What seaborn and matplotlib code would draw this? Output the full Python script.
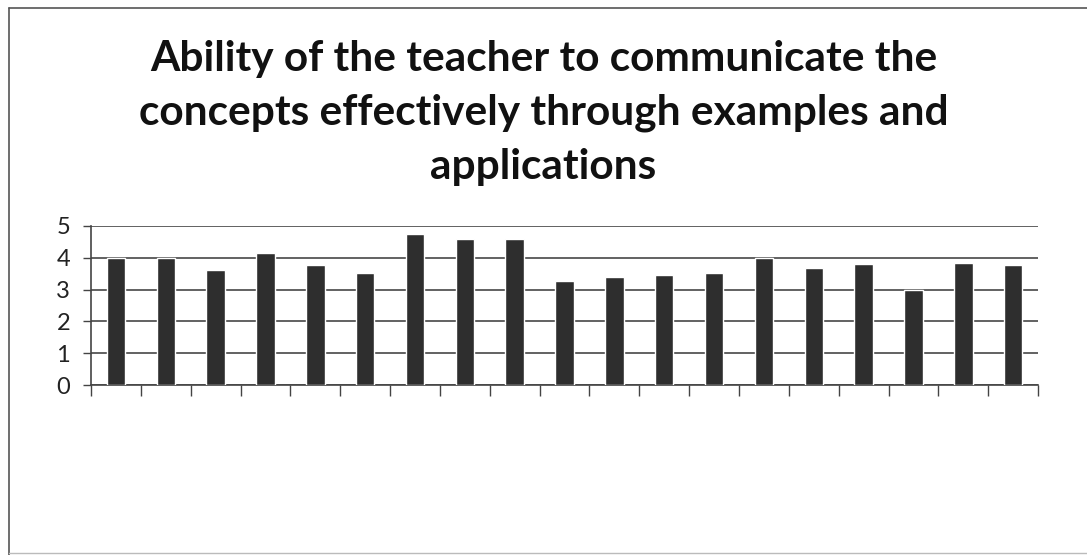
import pandas as pd
import numpy as np
import seaborn as sns
import matplotlib.pyplot as plt
from matplotlib.lines import Line2D

# data (19 bars, no category labels)
kategori = [str(i) for i in range(1, 20)]
nilai = [4.0, 4.0, 3.62, 4.14, 3.76, 3.52, 4.74, 4.6, 4.6, 3.27,
         3.39, 3.46, 3.51, 4.0, 3.69, 3.82, 3.0, 3.83, 3.76]
yticks = [0, 1, 2, 3, 4, 5]
judul = ("Ability of the teacher to communicate the\n"
         "concepts effectively through examples and\n"
         "applications")

df = pd.DataFrame({"kategori": kategori, "nilai": nilai})

sns.set_theme(style="white")
plt.rcParams["font.family"] = ["Lato", "DejaVu Sans"]

fig = plt.figure(figsize=(10.87, 5.55), dpi=100)
ax = fig.add_axes([0.0837, 0.3063, 0.8713, 0.2865])

sns.barplot(data=df, x="kategori", y="nilai", color="#2e2e2e",
            width=0.37, saturation=1, ax=ax, zorder=3)

ax.set_xlim(-0.5, len(kategori) - 0.5)
ax.set_ylim(0, 5)
ax.set_yticks(yticks)
ax.set_yticklabels([str(t) for t in yticks], fontsize=17, color="#222222")
ax.set_xticks(np.arange(-0.5, len(kategori), 1.0))
ax.set_xticklabels([])
ax.set_xlabel("")
ax.set_ylabel("")

ax.yaxis.grid(True, color="#555555", linewidth=1.3, zorder=0)
ax.tick_params(axis="y", length=6, width=1, color="#444444", pad=9, left=True)
ax.tick_params(axis="x", length=8, width=1, color="#444444", bottom=True, direction="out")

for s in ["top", "right"]:
    ax.spines[s].set_visible(False)
for s in ["left", "bottom"]:
    ax.spines[s].set_color("#444444")
    ax.spines[s].set_linewidth(1.2)

fig.text(0.5, 1 - 40 / 555, judul, ha="center", va="top", fontsize=30.5,
         fontweight="bold", color="#111111", linespacing=1.5)

# outer frame of the scanned chart
fig.add_artist(Line2D([9 / 1087, 1], [1 - 8 / 555, 1 - 8 / 555], transform=fig.transFigure,
                      color="#555555", linewidth=1.2))
fig.add_artist(Line2D([9 / 1087, 9 / 1087], [0, 1 - 8 / 555], transform=fig.transFigure,
                      color="#555555", linewidth=1.2))
fig.add_artist(Line2D([9 / 1087, 1], [2 / 555, 2 / 555], transform=fig.transFigure,
                      color="#bbbbbb", linewidth=1.0))

fig.savefig("out.png", dpi=100)
